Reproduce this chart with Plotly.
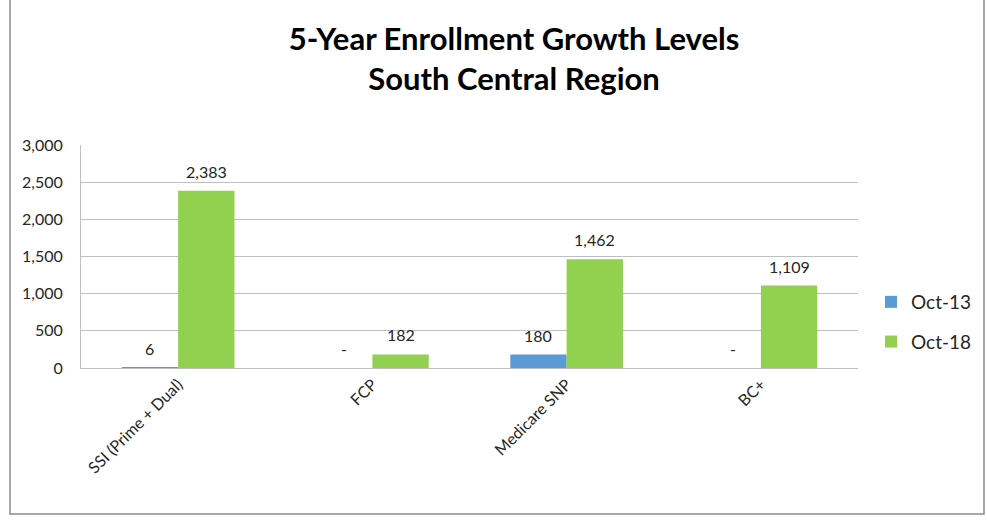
import plotly.graph_objects as go

# Enrollment by plan type, October 2013 vs October 2018
categories = ["SSI (Prime + Dual)", "FCP", "Medicare SNP", "BC+"]
oct_13 = [6, 0, 180, 0]
oct_18 = [2383, 182, 1462, 1109]

y_ticks = [0, 500, 1000, 1500, 2000, 2500, 3000]


def fmt(v):
    return "-" if v == 0 else f"{v:,}"


W, H = 987, 520
L, R, T, B = 81, 129, 145, 152
pw, ph = W - L - R, H - T - B

font_family = "Lato, 'Open Sans', sans-serif"
BARGAP = 0.42
half = (1 - BARGAP) / 4  # offset of each bar centre from category centre

fig = go.Figure()
fig.add_trace(go.Bar(
    name="Oct-13", x=categories, y=oct_13,
    marker=dict(color="#5B9BD5", line=dict(width=0)),
    legendgroup="a",
))
fig.add_trace(go.Bar(
    name="Oct-18", x=categories, y=oct_18,
    marker=dict(color="#92D050", line=dict(width=0)),
    legendgroup="b",
))

# value labels above each bar
annotations = []
for series, dx in ((oct_13, -half), (oct_18, half)):
    for i, v in enumerate(series):
        annotations.append(dict(
            x=i + dx, y=v, xref="x", yref="y", text=fmt(v),
            showarrow=False, yanchor="bottom", yshift=8,
            font=dict(size=16, color="#262626", family=font_family),
        ))


def px_x(x):
    return (x - L) / pw


def px_y(y):
    return (H - B - y) / ph


fig.update_layout(
    width=W, height=H,
    margin=dict(l=L, r=R, t=T, b=B, autoexpand=False),
    paper_bgcolor="white", plot_bgcolor="white",
    barmode="group", bargap=BARGAP, bargroupgap=0,
    font=dict(family=font_family, color="#262626"),
    title=dict(
        text="<b>5-Year Enrollment Growth Levels</b><br><b>South Central Region</b>",
        x=px_x(514), xref="paper", xanchor="center",
        y=1 - 50 / H, yref="container", yanchor="middle",
        font=dict(size=31, color="#000000", family=font_family),
    ),
    xaxis=dict(
        tickangle=-45, showgrid=False, showline=True,
        linecolor="#BFBFBF", linewidth=1, ticks="",
        tickfont=dict(size=16, color="#262626"),
    ),
    yaxis=dict(
        range=[0, 3000], tickvals=y_ticks,
        ticktext=[f"{v:,}" for v in y_ticks],
        showgrid=True, gridcolor="#BFBFBF", gridwidth=1,
        showline=True, linecolor="#BFBFBF", linewidth=1,
        zeroline=False, ticks="outside", ticklen=14, tickcolor="white",
        tickfont=dict(size=16, color="#262626"),
    ),
    legend=dict(
        x=px_x(871), xanchor="left", y=px_y(283), yanchor="top",
        font=dict(size=19, color="#262626"),
        tracegroupgap=12, itemwidth=30, bgcolor="rgba(0,0,0,0)",
    ),
    annotations=annotations,
    shapes=[dict(
        type="rect", xref="paper", yref="paper",
        x0=px_x(10), x1=px_x(984), y0=px_y(514), y1=px_y(-20),
        line=dict(color="#8C8C8C", width=1.5), fillcolor="rgba(0,0,0,0)",
        layer="below",
    )],
)

fig.write_html("out.html")
